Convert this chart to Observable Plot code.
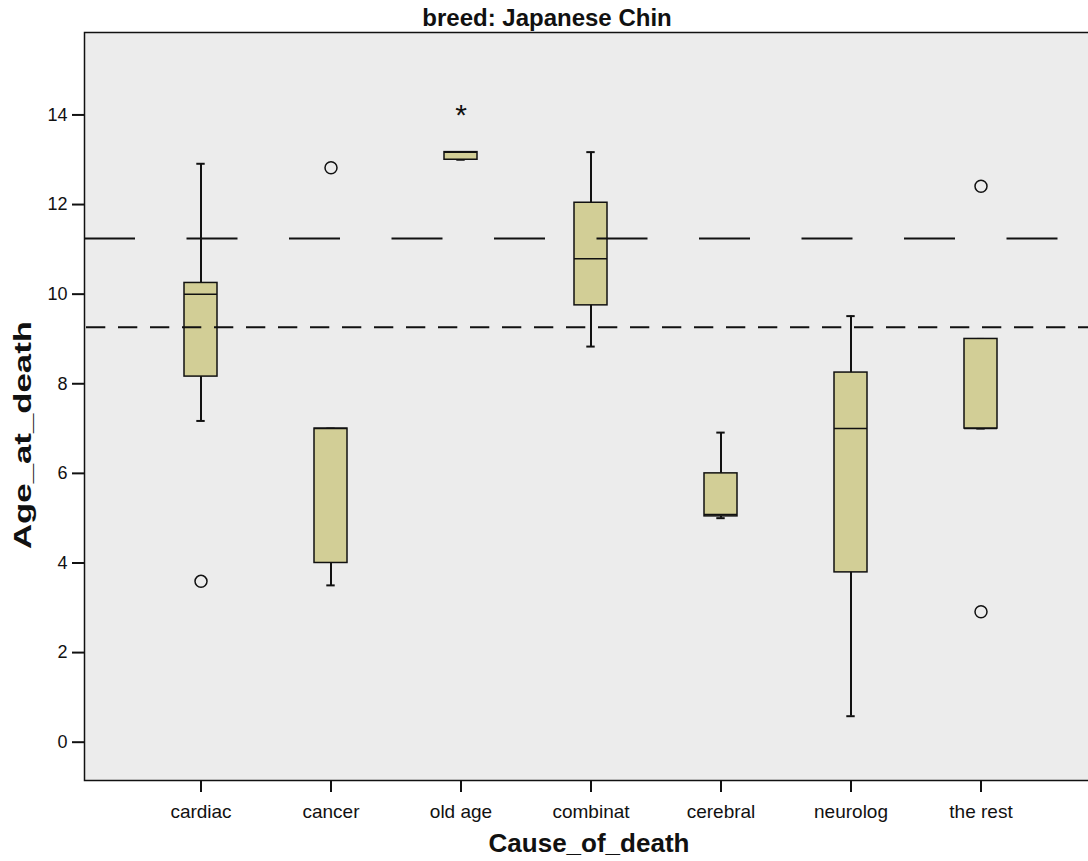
<!DOCTYPE html>
<html>
<head>
<meta charset="utf-8">
<script src="https://cdn.jsdelivr.net/npm/d3@7"></script>
<script src="https://cdn.jsdelivr.net/npm/@observablehq/plot@0.6"></script>
<style>
  html, body { margin: 0; padding: 0; background: #fff; overflow: hidden; }
  #chart { width: 1088px; height: 861px; overflow: hidden; }
  #chart svg { max-width: none !important; display: block; }
</style>
</head>
<body>
<div id="chart"></div>
<script>
// ---- data ----
const causes = ["cardiac", "cancer", "old age", "combinat", "cerebral", "neurolog", "the rest"];
const whiskerLow  = [7.17, 3.5, 13.0, 8.83, 5.0, 0.58, 7.0];
const q1          = [8.16, 4.0, 13.0, 9.75, 5.04, 3.79, 7.0];
const median      = [10.0, 7.0, 13.17, 10.79, 5.08, 7.0, 7.0];
const q3          = [10.25, 7.0, 13.17, 12.04, 6.0, 8.25, 9.0];
const whiskerHigh = [12.91, 7.0, 13.17, 13.17, 6.91, 9.51, 9.0];
const outlierCause = ["cardiac", "cancer", "the rest", "the rest"];
const outlierAge   = [3.59, 12.82, 12.41, 2.91];
const extremeCause = ["old age"];
const extremeAge   = [14.06];
const refLongDash  = 11.24;
const refShortDash = 9.26;
const yTicks = [0, 2, 4, 6, 8, 10, 12, 14];

const boxes = causes.map((c, i) => ({
  cause: c, lo: whiskerLow[i], q1: q1[i], med: median[i], q3: q3[i], hi: whiskerHigh[i]
}));
const outliers = outlierCause.map((c, i) => ({cause: c, age: outlierAge[i]}));
const extremes = extremeCause.map((c, i) => ({cause: c, age: extremeAge[i]}));

const font = "'Liberation Sans', Arial, Helvetica, sans-serif";
const boxFill = "#d2ce96";
const ink = "#111";

const chart = Plot.plot({
  width: 1097,
  height: 861,
  marginLeft: 84,
  marginRight: 0,
  marginTop: 32,
  marginBottom: 81,
  style: {fontFamily: font, fontSize: "18px", color: ink, background: "#fff", overflow: "visible"},
  x: {type: "band", domain: causes, range: [86.2, 1093.7], padding: 0.75, align: 0.5},
  y: {domain: [-0.855, 15.84]},
  marks: [
    Plot.frame({fill: "#ececec"}),
    // whiskers
    Plot.ruleX(boxes, {x: "cause", y1: "lo", y2: "hi", stroke: ink, strokeWidth: 2}),
    Plot.tickY(boxes, {x: "cause", y: "hi", stroke: ink, strokeWidth: 2, insetLeft: 12.3, insetRight: 12.3}),
    Plot.tickY(boxes, {x: "cause", y: "lo", stroke: ink, strokeWidth: 2, insetLeft: 12.3, insetRight: 12.3}),
    // boxes
    Plot.barY(boxes, {x: "cause", y1: "q1", y2: "q3", fill: boxFill, stroke: ink, strokeWidth: 1.5}),
    Plot.tickY(boxes, {x: "cause", y: "med", stroke: ink, strokeWidth: 1.5}),
    // outliers and extremes
    Plot.dot(outliers, {x: "cause", y: "age", r: 6, stroke: ink, strokeWidth: 1.5, fill: "none"}),
    Plot.text(extremes, {x: "cause", y: "age", text: () => "*", fontSize: 30, dy: 3, fill: ink}),
    // reference lines
    Plot.ruleY([refLongDash], {stroke: ink, strokeWidth: 2, strokeDasharray: "51,51.5"}),
    Plot.ruleY([refShortDash], {stroke: ink, strokeWidth: 2, strokeDasharray: "19.3,12.7", strokeDashoffset: -2}),
    Plot.frame({stroke: ink, strokeWidth: 1.5}),
    // axes
    Plot.axisY({ticks: yTicks, tickSize: 12, tickPadding: 5, strokeWidth: 2, fontSize: 18, label: null}),
    Plot.axisX({tickSize: 12, tickPadding: 12, strokeWidth: 2, fontSize: 19, label: null}),
    // titles
    Plot.text(["breed: Japanese Chin"], {frameAnchor: "top", lineAnchor: "middle", dx: -44, dy: -14, fontSize: 24, fontWeight: "bold", fill: ink}),
    Plot.text(["Age_at_death"], {frameAnchor: "left", lineAnchor: "middle", textAnchor: "middle", rotate: -90, fontSize: 24, fontWeight: "bold", fill: ink, className: "ylab"}),
    Plot.text(["Cause_of_death"], {frameAnchor: "bottom", lineAnchor: "middle", dx: -2, dy: 63, fontSize: 26, fontWeight: "bold", fill: ink})
  ]
});
// the reference's vertical axis title is drawn stretched along its length
d3.select(chart).selectAll("g.ylab").attr("transform", null).selectAll("text").each(function () {
  d3.select(this)
    .attr("x", null).attr("y", null)
    .attr("text-anchor", "middle")
    .attr("transform", "translate(31,435) rotate(-90) scale(1.45,1)");
});
document.getElementById("chart").append(chart);
</script>
</body>
</html>
